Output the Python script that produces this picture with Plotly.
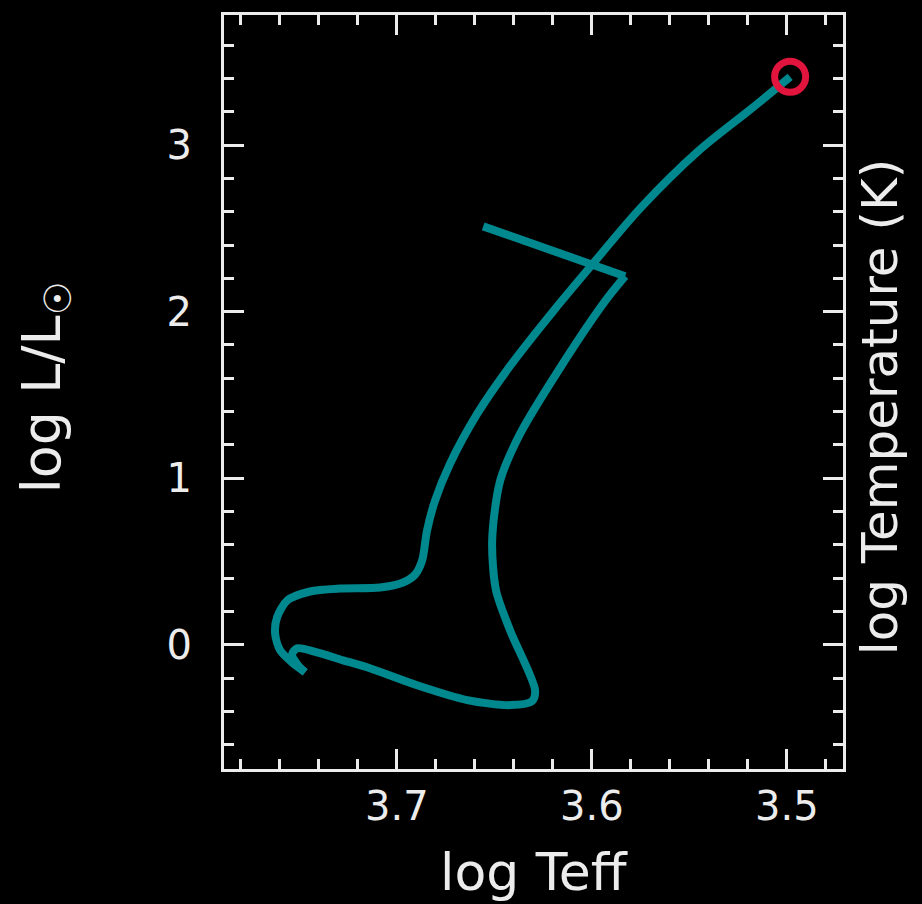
import plotly.graph_objects as go

# Pre-main-sequence track (log Teff, log L/Lsun)
pms_teff = [3.6557, 3.5829, 3.5932, 3.6163, 3.6368, 3.6470, 3.6511, 3.6491, 3.6419,
            3.6291, 3.6306, 3.6419, 3.6639, 3.6896, 3.7152, 3.7275, 3.7409, 3.7511,
            3.7537, 3.7506, 3.7470]
pms_lum = [2.512, 2.213, 2.063, 1.662, 1.266, 0.985, 0.626, 0.326, 0.087,
           -0.272, -0.338, -0.362, -0.332, -0.243, -0.135, -0.093, -0.045, -0.021,
           -0.057, -0.123, -0.165]

# Main sequence + red giant branch
ms_teff = [3.7470, 3.7532, 3.7598, 3.7624, 3.7614, 3.7562, 3.7445, 3.7291, 3.7086,
           3.6968, 3.6906, 3.6870, 3.6845, 3.6804, 3.6727, 3.6588, 3.6419, 3.6198,
           3.5993, 3.5752, 3.5445, 3.5188, 3.4983]
ms_lum = [-0.165, -0.111, -0.033, 0.069, 0.165, 0.266, 0.320, 0.338, 0.344,
          0.374, 0.422, 0.506, 0.686, 0.865, 1.087, 1.386, 1.674, 2.003,
          2.290, 2.620, 2.973, 3.213, 3.410]

TEAL = "#00888f"
RED = "#e0143c"
FG = "#ececec"
FONT = "DejaVu Sans"

fig = go.Figure()
fig.add_trace(go.Scatter(x=pms_teff[:2], y=pms_lum[:2], mode="lines",
                         line=dict(color=TEAL, width=8), showlegend=False))
fig.add_trace(go.Scatter(x=pms_teff[1:], y=pms_lum[1:], mode="lines",
                         line=dict(color=TEAL, width=8, shape="spline", smoothing=0.8),
                         showlegend=False))
fig.add_trace(go.Scatter(x=ms_teff, y=ms_lum, mode="lines",
                         line=dict(color=TEAL, width=8, shape="spline", smoothing=0.8),
                         showlegend=False))
fig.add_trace(go.Scatter(x=[ms_teff[-1]], y=[ms_lum[-1]], mode="markers",
                         marker=dict(symbol="circle", size=31, color="rgba(0,0,0,0)",
                                     line=dict(color=RED, width=7)),
                         showlegend=False))

axis_common = dict(
    showgrid=False, zeroline=False, showline=True, linecolor=FG, linewidth=3,
    mirror="ticks", ticks="inside", tickcolor=FG, tickwidth=3, ticklen=20,
    tickfont=dict(family=FONT, size=40, color=FG),
)

fig.update_xaxes(range=[3.7886, 3.4712], dtick=0.1, tick0=3.5,
                 minor=dict(dtick=0.02, tick0=3.5, ticks="inside", ticklen=10,
                            tickwidth=3, tickcolor=FG),
                 ticklabelstandoff=0, **axis_common)
fig.update_yaxes(range=[-0.7455, 3.781], dtick=1, tick0=0,
                 minor=dict(dtick=0.2, tick0=0, ticks="inside", ticklen=10,
                            tickwidth=3, tickcolor=FG),
                 ticklabelstandoff=21, **axis_common)

fig.update_layout(
    width=922, height=904,
    margin=dict(l=224, r=79, t=13, b=135),
    paper_bgcolor="black", plot_bgcolor="black",
    font=dict(family=FONT, color=FG),
    annotations=[
        dict(text="log Teff", xref="paper", yref="paper", x=0.5, y=-0.136,
             xanchor="center", yanchor="middle", showarrow=False,
             font=dict(family=FONT, size=52, color=FG)),
        dict(text="log L/L<sub>☉</sub>", xref="paper", yref="paper", x=-0.29, y=0.507,
             xanchor="center", yanchor="middle", showarrow=False, textangle=-90,
             font=dict(family=FONT, size=54, color=FG)),
        dict(text="log Temperature (K)", xref="paper", yref="paper", x=1.06, y=0.48,
             xanchor="center", yanchor="middle", showarrow=False, textangle=-90,
             font=dict(family=FONT, size=50, color=FG)),
    ],
)

fig.write_html("out.html")
